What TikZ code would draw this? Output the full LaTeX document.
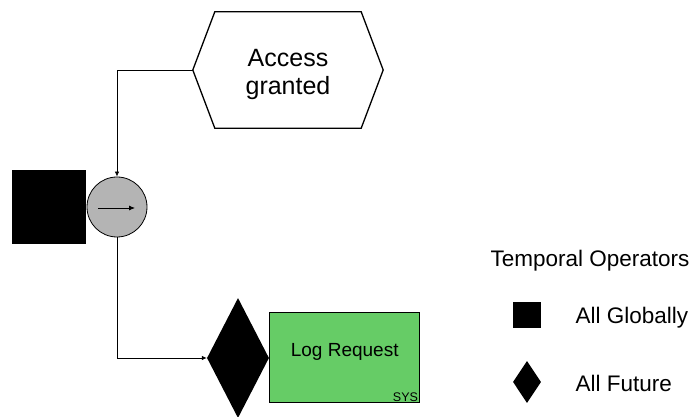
\documentclass[tikz,border=0pt]{standalone}
\usepackage{fontspec}
\setmainfont{Liberation Sans}
\usetikzlibrary{
    arrows.meta,
    positioning,
    calc,
    shapes.geometric
}
\tikzset{
  eventbox/.style = {minimum width=190pt, minimum height=116pt, inner sep=0pt},
  eventtxt/.style = {align=center, font=\fontsize{25}{28}\selectfont},
  funcbox/.style  = {draw, line width=1pt, fill=FuncGreen, minimum width=150pt,
                     minimum height=90pt, inner sep=0pt},
  functxt/.style  = {anchor=base, inner sep=0pt, font=\fontsize{19}{22}\selectfont},
  conn/.style     = {-{Latex[length=5pt,width=4.5pt]}, line width=0.8pt}
}
\definecolor{FuncGreen}{RGB}{102,204,102}
\definecolor{OpGray}{RGB}{180,180,180}

\begin{document}
\begin{tikzpicture}[
    x=1pt, y=1pt,
    opcirc/.style={draw, circle, fill=OpGray, minimum size=60pt, inner sep=0pt, line width=0.8pt},
    globsq/.style={fill=black, minimum size=74pt, inner sep=0pt},
    futdia/.style={diamond, fill=black, inner sep=0pt},
    legtext/.style={anchor=base west, font=\fontsize{22.5}{26}\selectfont}
]
\useasboundingbox (0,0) rectangle (697,417);

% event
\node[eventbox] (access) at (288,347) {};
\draw[line width=1.3pt]
    (access.west) -- ($(access.north west)+(22,0)$) -- ($(access.north east)+(-22,0)$)
    -- (access.east) -- ($(access.south east)+(-22,0)$) -- ($(access.south west)+(22,0)$)
    -- cycle;
\node[eventtxt] (acctxt) at ($(access.center)+(0,-5)$) {Access\\granted};

% operator with temporal marker
\node[opcirc] (op) at (117,210) {};
\node[globsq, left=0pt of op] (glob) {};
\draw[-{Latex[length=6pt,width=5pt]}, line width=0.8pt]
    ($(op.center)+(-19,-1)$) -- ($(op.center)+(18,-1)$);

% function
\node[futdia, minimum width=62pt, minimum height=120pt] (fut) at (238,59) {};
\node[funcbox, right=0pt of fut] (log) {};
\node[functxt] (logtxt) at ($(log.center)+(0,1)$) {Log Request};
\node[anchor=base east, inner sep=0pt, font=\fontsize{12.5}{14}\selectfont]
    (sys) at ($(log.south east)+(-2,2)$) {SYS};

\draw[conn] (access.west) -| (op.north);
\draw[conn] (op.south) |- (fut.west);

% legend
\node[legtext] (legtitle) at (487,150) {Temporal Operators};
\node[fill=black, minimum width=28pt, minimum height=26pt, inner sep=0pt] (legsq) at (527,102) {};
\node[legtext] (legglob) at (572,93) {All Globally};
\node[futdia, minimum width=28pt, minimum height=42pt] (legdia) at (527,35) {};
\node[legtext] (legfut) at (572,25) {All Future};
\end{tikzpicture}
\end{document}
